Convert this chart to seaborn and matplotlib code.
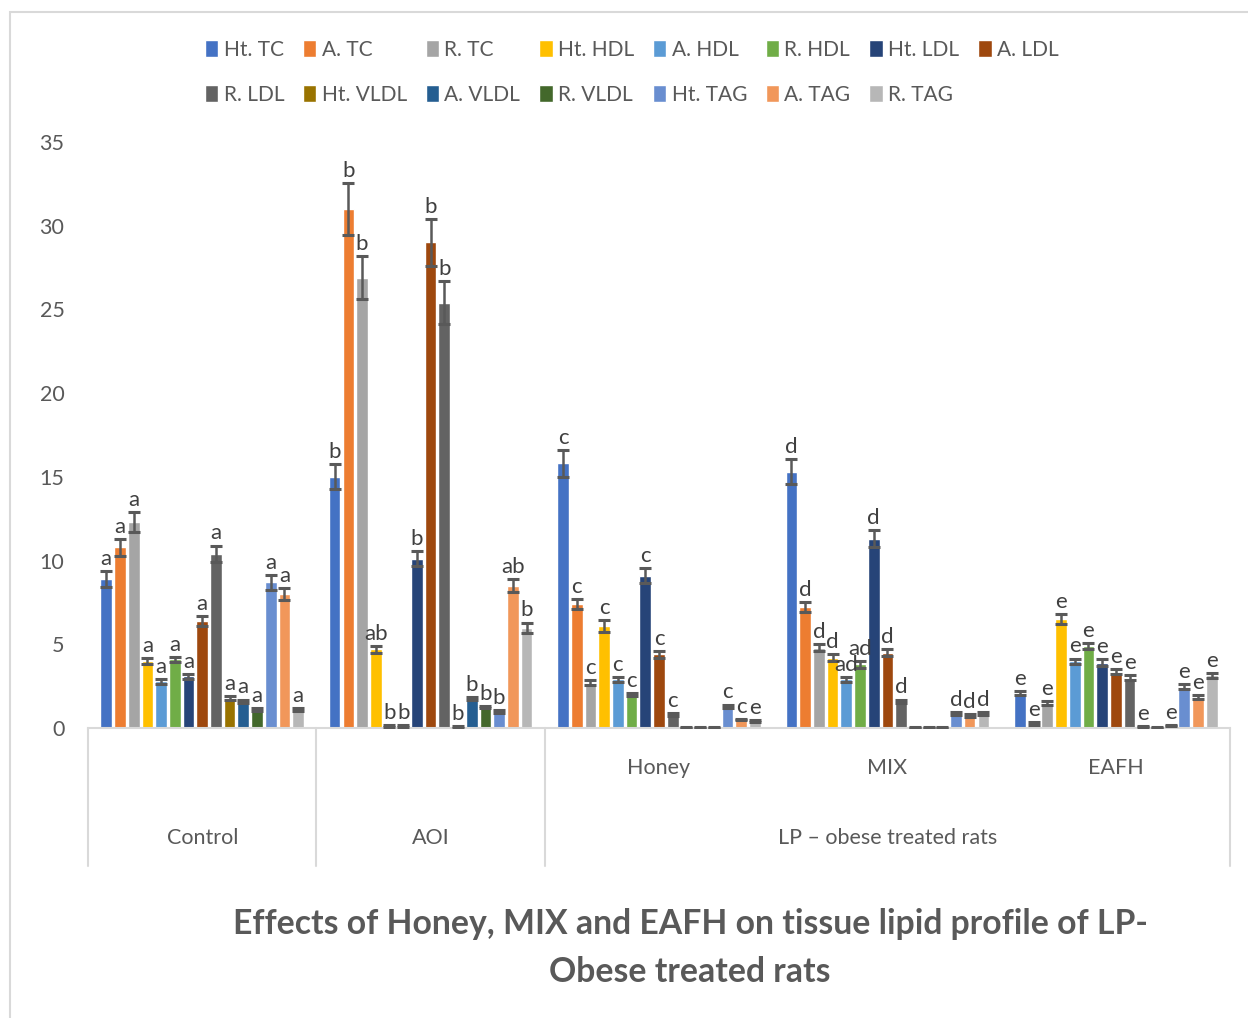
import matplotlib
matplotlib.use("Agg")
import matplotlib.pyplot as plt
import matplotlib.transforms as mtransforms
from matplotlib.patches import Rectangle
import seaborn as sns
import pandas as pd

sns.set_theme(style="white")
plt.rcParams['font.family'] = ['Lato', 'DejaVu Sans']

# ---------------- data ----------------
groups = ["Control", "AOI", "Honey", "MIX", "EAFH"]
series = ["Ht. TC", "A. TC", "R. TC", "Ht. HDL", "A. HDL", "R. HDL",
          "Ht. LDL", "A. LDL", "R. LDL", "Ht. VLDL", "A. VLDL", "R. VLDL",
          "Ht. TAG", "A. TAG", "R. TAG"]
colors = ["#4472C4", "#ED7D31", "#A5A5A5", "#FFC000", "#5B9BD5", "#70AD47",
          "#264478", "#9E480E", "#636363", "#997300", "#255E91", "#43682B",
          "#698ED0", "#F1975A", "#B7B7B7"]

control_vals = [8.9, 10.8, 12.3, 4.0, 2.8, 4.1, 3.1, 6.4, 10.4, 1.8, 1.6, 1.1, 8.7, 8.0, 1.1]
aoi_vals     = [15.0, 31.0, 26.9, 4.7, 0.1, 0.1, 10.1, 29.0, 25.4, 0.05, 1.75, 1.25, 1.0, 8.5, 6.0]
honey_vals   = [15.8, 7.4, 2.7, 6.1, 2.9, 2.0, 9.1, 4.4, 0.8, 0.02, 0.02, 0.02, 1.3, 0.5, 0.4]
mix_vals     = [15.3, 7.2, 4.8, 4.2, 2.9, 3.8, 11.3, 4.5, 1.6, 0.02, 0.02, 0.02, 0.85, 0.75, 0.85]
eafh_vals    = [2.1, 0.25, 1.5, 6.5, 4.0, 4.9, 3.9, 3.35, 3.0, 0.08, 0.02, 0.15, 2.45, 1.85, 3.15]

control_err = [0.45, 0.5, 0.6, 0.2, 0.15, 0.15, 0.15, 0.3, 0.5, 0.1, 0.1, 0.1, 0.45, 0.35, 0.1]
aoi_err     = [0.75, 1.55, 1.3, 0.2, 0.05, 0.05, 0.45, 1.4, 1.3, 0.05, 0.1, 0.05, 0.08, 0.4, 0.3]
honey_err   = [0.8, 0.3, 0.15, 0.35, 0.15, 0.1, 0.45, 0.2, 0.1, 0.02, 0.02, 0.02, 0.1, 0.05, 0.05]
mix_err     = [0.75, 0.3, 0.2, 0.2, 0.15, 0.2, 0.5, 0.2, 0.1, 0.02, 0.02, 0.02, 0.1, 0.1, 0.1]
eafh_err    = [0.1, 0.1, 0.1, 0.3, 0.15, 0.2, 0.2, 0.15, 0.15, 0.05, 0.02, 0.05, 0.15, 0.1, 0.15]

control_lab = ["a"] * 15
aoi_lab     = ["b", "b", "b", "ab", "b", "b", "b", "b", "b", "b", "b", "b", "b", "ab", "b"]
honey_lab   = ["c"] * 9 + ["", "", ""] + ["c", "c", "e"]
mix_lab     = ["d", "d", "d", "d", "ad", "ad", "d", "d", "d", "", "", "", "d", "d", "d"]
eafh_lab    = ["e"] * 9 + ["e", "", "e"] + ["e", "e", "e"]

top_groups = ["Control", "AOI", "LP \u2013 obese treated rats"]
title = "Effects of Honey, MIX and EAFH on tissue lipid profile of LP-\nObese treated rats"

vals = [control_vals, aoi_vals, honey_vals, mix_vals, eafh_vals]
errs = [control_err, aoi_err, honey_err, mix_err, eafh_err]
labs = [control_lab, aoi_lab, honey_lab, mix_lab, eafh_lab]

rows = []
for g, vs in zip(groups, vals):
    for s, v in zip(series, vs):
        rows.append({"group": g, "series": s, "value": v})
df = pd.DataFrame(rows)

# ---------------- figure ----------------
W, H = 1248, 1018
fig = plt.figure(figsize=(W / 100, H / 100), dpi=100)
ax = fig.add_axes([88 / W, (H - 728) / H, (1230 - 88) / W, (728 - 142) / H])

sns.barplot(data=df, x="group", y="value", hue="series", hue_order=series,
            order=groups, palette=colors, saturation=1, width=0.9, gap=0.15,
            errorbar=None, ax=ax)

txt = "#595959"
bars = [p for p in ax.patches if isinstance(p, Rectangle) and p.get_width() > 0]
bars = sorted(bars, key=lambda p: p.get_x())
for k, bar in enumerate(bars[:len(groups) * len(series)]):
    gi, si = divmod(k, len(series))
    x = bar.get_x() + bar.get_width() / 2
    v = bar.get_height()
    e = errs[gi][si]
    ax.errorbar(x, v, yerr=e, fmt="none", ecolor="#595959", elinewidth=1.8,
                capsize=4.5, capthick=2.2, zorder=5)
    lab = labs[gi][si]
    if lab:
        ax.annotate(lab, (x, v + e), xytext=(0, 1.5), textcoords="offset points",
                    ha="center", va="bottom", fontsize=16, color="#404040", zorder=6)

handles, labels = ax.get_legend_handles_labels()
if ax.get_legend() is not None:
    ax.get_legend().remove()
ncol = 8
n = len(handles)
order = []
for c in range(ncol):
    for r in range(2):
        idx = r * ncol + c
        if idx < n:
            order.append(idx)
fig.legend([handles[i] for i in order], [labels[i] for i in order],
           ncol=ncol, loc="upper left",
           bbox_to_anchor=(186 / W, 1 - 21 / H), frameon=False,
           handlelength=0.65, handleheight=0.9, handletextpad=0.25,
           columnspacing=0.9, labelspacing=1.2, fontsize=15, labelcolor=txt)

ax.set_ylim(0, 35)
ax.set_xlim(-0.5, 4.5)
ax.set_yticks(range(0, 36, 5))
ax.tick_params(axis="y", length=0, pad=17, labelsize=15.5, labelcolor=txt)
ax.set_xticks([])
ax.set_xlabel("")
ax.set_ylabel("")
for sp in ["left", "top", "right"]:
    ax.spines[sp].set_visible(False)
ax.spines["bottom"].set_color("#d9d9d9")
ax.spines["bottom"].set_linewidth(1.5)

# multi-level category axis
trans = mtransforms.blended_transform_factory(ax.transData, ax.transAxes)
y1 = (728 - 768) / 586
y2 = (728 - 838) / 586
y3 = (728 - 866) / 586
for i in [2, 3, 4]:
    ax.text(i, y1, groups[i], transform=trans, ha="center", va="center",
            fontsize=15.5, color=txt)
for xc, t in zip([0, 1, 3], top_groups):
    ax.text(xc, y2, t, transform=trans, ha="center", va="center",
            fontsize=15.5, color=txt)
for xb in [-0.5, 0.5, 1.5, 4.5]:
    ax.plot([xb, xb], [0, y3], transform=trans, color="#d9d9d9", lw=1.5,
            clip_on=False)

fig.text(690 / W, 1 - 948 / H, title, ha="center", va="center", fontsize=24.3,
         fontweight="bold", color=txt, linespacing=1.6)

fig.patches.append(Rectangle((10 / W, -0.1), 1.2, 1 - 12 / H + 0.1,
                             transform=fig.transFigure, fill=False,
                             edgecolor="#d9d9d9", lw=1.5))

fig.savefig("out.png", dpi=100)
